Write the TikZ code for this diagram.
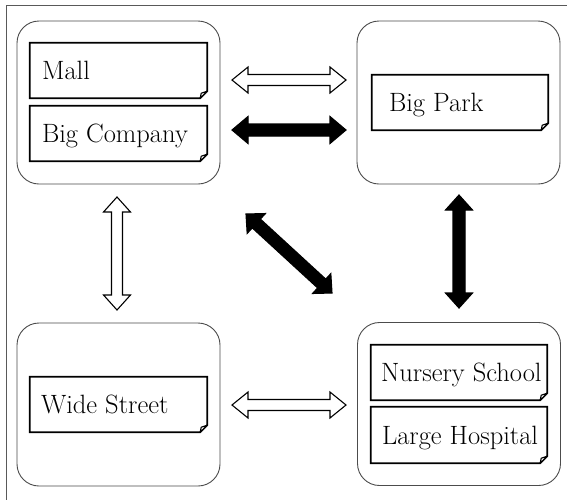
\documentclass[tikz,border=0pt]{standalone}
\usetikzlibrary{calc}
\tikzset{
  grp/.style={draw=black!70, line width=0.9pt, rounded corners=22pt, minimum width=203pt, minimum height=163pt, inner sep=0pt},
  notebox/.style={minimum width=177pt, minimum height=55pt, inner sep=0pt},
  noteline/.style={draw=black, line width=1.8pt, line join=miter},
  foldline/.style={draw=black, line width=1.1pt, fill=white, line join=round},
  notetext/.style={anchor=west, inner sep=0pt, text height=18pt, text depth=0pt, font=\fontsize{26.5}{30}\selectfont},
  whitearrow/.style={draw=black, line width=1.1pt, fill=white, line join=miter},
  blackarrow/.style={draw=black, line width=1.1pt, fill=black, line join=miter},
  frameline/.style={draw=black!65, line width=1pt},
}
% #1 start, #2 end, #3 style, #4 head length, #5 head half width, #6 shaft half width
\newcommand\blockarrow[6]{%
  \draw[#3] (#1)
    -- ($(#1)!#4!(#2)!#5!90:(#2)$)
    -- ($(#1)!#4!(#2)!#6!90:(#2)$)
    -- ($(#2)!#4!(#1)!#6!-90:(#1)$)
    -- ($(#2)!#4!(#1)!#5!-90:(#1)$)
    -- (#2)
    -- ($(#2)!#4!(#1)!#5!90:(#1)$)
    -- ($(#2)!#4!(#1)!#6!90:(#1)$)
    -- ($(#1)!#4!(#2)!#6!-90:(#2)$)
    -- ($(#1)!#4!(#2)!#5!-90:(#2)$)
    -- cycle;}
\newcommand\notedraw[1]{%
  \draw[noteline] (#1.south west) -- (#1.north west) -- (#1.north east)
    -- ([yshift=7pt]#1.south east) -- ([xshift=-7pt]#1.south east) -- cycle;
  \draw[foldline] ([yshift=7pt]#1.south east)
    .. controls ([xshift=-3pt,yshift=6pt]#1.south east) .. ([xshift=-6pt,yshift=5pt]#1.south east)
    .. controls ([xshift=-6pt,yshift=2pt]#1.south east) .. ([xshift=-7pt]#1.south east)
    -- cycle;}
\begin{document}
\begin{tikzpicture}[x=1pt,y=-1pt]
\path[use as bounding box] (0,0) rectangle (567,499);
\clip (0,0) rectangle (567,499);
\fill[white] (0,0) rectangle (567,499);
\draw[frameline] (6,5) rectangle (590,520);

% groups
\node[grp] (tl) at (118.5,102.5) {};
\node[grp] (tr) at (458.5,102.5) {};
\node[grp] (bl) at (118.5,404.5) {};
\node[grp] (br) at (459,404) {};

% notes
\node[notebox] (mall) at (118.5,70.5) {};
\node[notebox] (bigco) at (118.5,133.5) {};
\node[notebox, minimum width=176pt] (bigpark) at (460,102.5) {};
\node[notebox] (wide) at (118.5,404.5) {};
\node[notebox, minimum width=176pt] (nursery) at (459,372.5) {};
\node[notebox, minimum width=176pt, minimum height=56pt] (hospital) at (459,435) {};
\foreach \n in {mall,bigco,bigpark,wide,nursery,hospital} {\notedraw{\n}}

\node[notetext] (tmall) at ([xshift=12pt]mall.west) {Mall};
\node[notetext] (tbigco) at ([xshift=12pt]bigco.west) {Big Company};
\node[notetext] (tbigpark) at ([xshift=17pt]bigpark.west) {Big Park};
\node[notetext] (twide) at ([xshift=11pt]wide.west) {Wide Street};
\node[notetext] (tnursery) at ([xshift=10pt]nursery.west) {Nursery School};
\node[notetext] (thospital) at ([xshift=11pt]hospital.west) {Large Hospital};

% arrow ends
\coordinate (h1a) at (232,80);  \coordinate (h1b) at (346,80);
\coordinate (h2a) at (232,130); \coordinate (h2b) at (346,130);
\coordinate (h3a) at (232,405); \coordinate (h3b) at (346,405);
\coordinate (v1a) at (117,197); \coordinate (v1b) at (117,310);
\coordinate (v2a) at (459,195); \coordinate (v2b) at (459,308);
\coordinate (d1a) at (246,214); \coordinate (d1b) at (332,293);

\blockarrow{h1a}{h1b}{whitearrow}{16pt}{13pt}{5.5pt}
\blockarrow{h2a}{h2b}{blackarrow}{16pt}{13.5pt}{6pt}
\blockarrow{h3a}{h3b}{whitearrow}{16pt}{13pt}{5.5pt}
\blockarrow{v1a}{v1b}{whitearrow}{15pt}{13.5pt}{5.5pt}
\blockarrow{v2a}{v2b}{blackarrow}{15pt}{13.5pt}{6pt}
\blockarrow{d1a}{d1b}{blackarrow}{14pt}{13.5pt}{6pt}
\end{tikzpicture}
\end{document}
